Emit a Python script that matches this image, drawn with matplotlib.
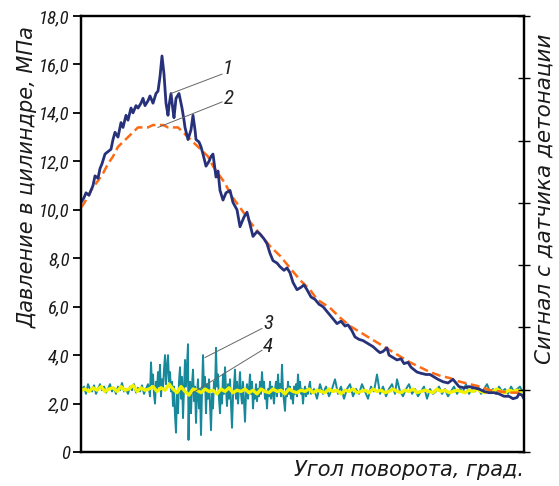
import matplotlib
matplotlib.use("Agg")
import matplotlib.pyplot as plt
from matplotlib import font_manager
import numpy as np

# ---------------- data ----------------
# curve 1: measured cylinder pressure (MPa)
p1_x = [0, 3, 5, 8, 10, 12, 14, 17, 19, 21, 24, 27, 30, 32, 34, 37, 40, 42, 45, 47, 50, 52, 55,
        57, 60, 62, 64, 67, 69, 72, 75, 77, 79, 81, 83,
        85, 87, 88, 90, 92, 93, 95, 98, 101, 103, 104, 107, 110, 112, 114, 115, 118, 120, 122, 125,
        128, 130, 132, 135, 137, 139, 142, 145, 149, 152, 156, 159, 163, 166, 169, 172, 176, 179,
        183, 186, 189, 192, 196, 199, 203, 206, 209, 212, 216, 220, 223, 226, 230, 234, 238, 242,
        246, 249, 252, 256, 260, 264, 267, 271, 274, 278, 282, 286, 290, 292, 296, 299, 302, 306,
        308, 312, 316, 320, 323, 327, 330, 333, 336, 340, 345, 349, 353, 357, 362, 367, 372, 374,
        378, 383, 388, 393, 398, 403, 408, 413, 418, 423, 428, 432, 436, 438, 441, 443]
p1_y = [10.3, 10.5, 10.7, 10.6, 10.8, 11.0, 11.4, 11.3, 11.7, 11.9, 12.3, 12.4, 12.5, 12.9, 13.2,
        13.0, 13.6, 13.4, 13.9, 13.7, 14.2, 14.0, 14.3, 14.2, 14.4, 14.6, 14.3, 14.5, 14.7, 14.4,
        14.8, 14.9, 15.5, 16.35, 15.6, 14.4, 13.9, 14.3, 14.8, 14.1, 13.8,
        14.6, 14.8, 14.2, 13.7, 13.4, 12.9, 13.3, 13.9, 13.3, 12.9, 12.8, 12.6, 12.3, 11.8, 12.0,
        12.2, 12.3, 11.35, 11.6, 10.8, 10.4, 10.7, 10.8, 10.3, 10.0, 9.3, 9.7, 9.9, 9.4, 8.9, 9.1,
        9.0, 8.8, 8.6, 8.2, 7.9, 7.8, 7.65, 7.5, 7.6, 7.4, 7.0, 6.7, 6.8, 6.9, 6.7, 6.4, 6.3, 6.1,
        6.0, 5.8, 5.65, 5.5, 5.3, 5.4, 5.2, 5.25, 5.0, 4.75, 4.65, 4.6, 4.5, 4.4, 4.35, 4.2, 4.1,
        4.15, 4.3, 4.0, 3.9, 3.8, 3.85, 3.65, 3.7, 3.5, 3.4, 3.3, 3.25, 3.2, 3.2, 3.1, 3.0, 2.9,
        2.85, 3.0, 2.9, 2.7, 2.65, 2.7, 2.65, 2.6, 2.5, 2.45, 2.45, 2.4, 2.3, 2.3, 2.2, 2.25, 2.4,
        2.35, 2.2]

# curve 2: calculated pressure (MPa)
p2_x = [0, 2, 5, 10, 17, 22, 27, 32, 37, 42, 47, 52, 57, 62, 67, 72, 77, 82, 87, 92, 97, 102,
        107, 112, 117, 122, 127, 132, 137, 144, 150, 159, 169, 179, 189, 199, 209, 219, 229, 236,
        249, 259, 269, 279, 289, 299, 309, 319, 329, 339, 349, 359, 369, 379, 389, 399, 409, 419,
        429, 436, 443]
p2_y = [10.1, 10.2, 10.4, 10.8, 11.2, 11.5, 11.9, 12.2, 12.6, 12.8, 13.0, 13.2, 13.4, 13.4, 13.4,
        13.5, 13.5, 13.5, 13.4, 13.4, 13.4, 13.2, 13.0, 12.8, 12.6, 12.4, 12.2, 11.8, 11.5, 11.1,
        10.6, 10.1, 9.5, 9.0, 8.5, 8.1, 7.6, 7.1, 6.7, 6.3, 5.95, 5.55, 5.2, 4.95, 4.7, 4.45, 4.2,
        3.95, 3.7, 3.5, 3.3, 3.15, 3.05, 2.9, 2.8, 2.7, 2.55, 2.5, 2.45, 2.45, 2.45]

# curve 3: knock sensor signal (raw)
s3_x = [0, 3, 5, 7, 9, 11, 13, 15, 17, 19, 21, 23, 25, 27, 29, 31, 33, 35, 37, 39, 41, 43, 45, 47,
        49, 51, 53, 55, 57, 59, 61, 63, 65, 67,
        68, 69, 70, 71, 72, 73, 74, 75, 76, 77, 78, 79, 80, 81, 82, 83, 84, 85, 86, 87, 88, 89, 90,
        91, 92, 93, 94, 95, 96, 97, 98, 99, 100, 101, 102, 103, 104, 105, 106, 107, 107.5, 108, 109,
        110, 111, 112, 113, 114, 115, 116, 117, 118, 119, 120, 121, 122, 123, 124, 125, 126, 127,
        128, 129, 130, 131, 132, 133, 134, 135, 136, 137, 138, 139, 140, 141, 142, 143, 144, 145,
        146, 147, 148, 149, 150, 151, 152, 153, 154, 155, 156, 157, 158, 159, 160, 161, 162, 163,
        164, 165, 166, 167, 168, 169, 170, 171, 172, 173, 174, 175, 176, 177, 178, 179, 180, 181,
        182, 183, 184, 185, 186, 187, 188, 189, 190, 191, 192, 193, 194, 195, 196, 197, 198, 199,
        200, 201, 202, 203, 204, 205, 206, 207, 208, 209, 210, 211, 212, 213, 214, 215, 216, 217,
        218, 219, 220, 221, 222, 223, 224, 225, 226, 227, 228, 229, 230,
        233, 236, 239, 242, 245, 248, 251, 254, 257, 260, 263, 266, 269, 272, 275, 278, 281, 284,
        287, 290, 293, 296, 299, 302, 305, 308, 311, 314, 316, 319, 322, 325, 328, 331, 334, 337,
        340, 343, 346, 349, 352, 355, 358, 361, 364, 367, 370, 373, 376, 379, 382, 385, 388, 391,
        394, 397, 400, 403, 406, 409, 412, 415, 418, 421, 424, 427, 430, 433, 436, 439, 441, 443]
s3_y = [2.5, 2.7, 2.4, 2.8, 2.6, 2.5, 2.75, 2.4, 2.6, 2.8, 2.55, 2.7, 2.45, 2.6, 2.8, 2.5, 2.65,
        2.4, 2.7, 2.55, 2.85, 2.5, 2.6, 2.4, 2.7, 2.55, 2.8, 2.45, 2.65, 2.5, 2.75, 2.4, 2.6, 2.8,
        2.6, 2.3, 3.7, 2.8, 3.2, 2.4, 2.0, 2.9, 2.5, 3.3, 2.7, 3.6, 2.3, 3.0, 2.6, 3.4, 4.0, 2.8,
        3.5, 4.0, 2.9, 3.3, 2.5, 2.9, 1.9, 2.7, 1.5, 0.8, 2.4, 1.6, 2.9, 3.5, 2.2, 3.1, 1.4, 2.6,
        3.8, 2.7, 3.6, 4.45, 0.5, 1.8, 2.9, 1.6, 2.8, 3.4, 2.1, 2.7, 1.2, 2.4, 3.0, 1.8, 2.6, 0.7,
        2.5, 4.0, 2.6, 3.1, 1.6, 2.8, 2.2, 3.0, 1.9, 0.9, 2.4, 1.8, 2.9, 2.5, 4.3, 2.7, 3.2, 2.2,
        1.6, 2.6, 2.0, 3.2, 2.4, 3.5, 2.6, 1.9, 2.8, 2.2, 3.0, 2.0, 1.0, 2.3, 2.7, 3.4, 2.2, 2.9,
        2.0, 2.6, 3.3, 2.4, 2.0, 2.9, 2.1, 1.25, 2.4, 2.8, 2.2, 2.6, 3.2, 2.4, 2.9, 1.8, 2.5, 2.2,
        2.8, 2.1, 2.6, 2.3, 2.9, 2.4, 3.3, 2.6, 2.9, 2.2, 2.5, 1.8, 2.6, 2.3, 2.9, 2.2, 2.7, 2.4,
        2.0, 2.6, 2.9, 2.3, 3.2, 2.5, 2.8, 2.3, 3.6, 2.5, 2.1, 1.7, 2.6, 2.3, 2.9, 2.4, 2.7, 2.2,
        2.5, 2.0, 2.7, 2.4, 2.8, 2.3, 3.2, 2.6, 2.9, 2.4, 2.6, 2.0, 2.5, 2.7, 2.3, 2.6, 2.4, 2.7,
        2.9, 2.4,
        2.6, 2.2, 2.8, 2.4, 2.7, 2.3, 2.6, 3.0, 2.4, 2.7, 2.2, 2.6, 2.8, 2.3, 2.6, 2.4, 2.8, 2.5,
        2.2, 2.7, 2.5, 3.2, 2.4, 2.7, 2.3, 2.6, 2.8, 2.4, 3.0, 2.5, 2.3, 2.6, 2.8, 2.4, 2.6, 2.3,
        2.5, 2.7, 2.2, 2.6, 2.4, 2.5, 2.7, 2.4, 2.6, 2.3, 2.5, 2.7, 2.4, 2.6, 2.5, 2.8, 2.4, 2.6,
        2.5, 2.7, 2.4, 2.6, 2.8, 2.5, 2.6, 2.4, 2.7, 2.5, 2.6, 2.4, 2.7, 2.5, 2.6, 2.7, 2.5, 2.6]

# curve 4: knock sensor signal (filtered), sampled every 4 units
s4_step = 4
s4_y = [2.55, 2.6, 2.5, 2.65, 2.55, 2.7, 2.5, 2.6, 2.65, 2.5, 2.7, 2.55, 2.6, 2.75, 2.5, 2.65,
        2.55, 2.6, 2.7, 2.5,
        2.65, 2.55, 2.8, 2.6, 2.45, 2.7, 2.5, 2.35, 2.6, 2.55, 2.45, 2.6, 2.5, 2.55, 2.4, 2.6,
        2.5, 2.65, 2.45, 2.55,
        2.5, 2.6, 2.45, 2.55, 2.4, 2.6, 2.5, 2.45, 2.6, 2.5, 2.55, 2.4, 2.6, 2.5, 2.45, 2.55,
        2.5, 2.6, 2.45, 2.55,
        2.5, 2.45, 2.6, 2.5, 2.55, 2.4, 2.55, 2.5, 2.6, 2.45, 2.5, 2.55, 2.45, 2.6, 2.5, 2.55,
        2.45, 2.5, 2.6, 2.5,
        2.45, 2.55, 2.5, 2.6, 2.45, 2.5, 2.55, 2.5, 2.45, 2.6, 2.5, 2.55, 2.45, 2.5, 2.55, 2.5,
        2.45, 2.55, 2.5, 2.6,
        2.5, 2.45, 2.55, 2.5, 2.6, 2.5, 2.45, 2.55, 2.5, 2.55, 2.5]

y_ticks = [0, 2, 4, 6, 8, 10, 12, 14, 16, 18]
y_tick_labels = ["0", "2,0", "4,0", "6,0", "8,0", "10,0", "12,0", "14,0", "16,0", "18,0"]

# leader labels: (label, curve point, text position)
labels = ["1", "2", "3", "4"]
label_from = [(90, 14.8), (77, 13.4), (124, 3.9), (112, 2.45)]
label_to = [(141, 15.6), (141, 14.45), (181, 5.1), (181, 4.2)]
label_text = [(147, 15.85), (148, 14.6), (187, 5.3), (187, 4.35)]

# ---------------- font ----------------
avail = {f.name for f in font_manager.fontManager.ttflist}
fam = "DejaVu Sans"
for cand in ["Roboto Condensed", "Liberation Sans Narrow", "Open Sans Condensed",
             "DejaVu Sans Condensed", "DejaVu Sans"]:
    if cand in avail:
        fam = cand
        break
plt.rcParams["font.family"] = [fam, "DejaVu Sans"]
plt.rcParams["font.style"] = "italic"
label_font = dict(family=["DejaVu Sans"], style="italic", color="#1a1a1a")

# ---------------- plot ----------------
fig = plt.figure(figsize=(5.59, 4.86), dpi=100)
ax = fig.add_axes([81 / 559, 34 / 486, 443 / 559, 436 / 486])

c_navy = "#27317a"
c_orange = "#ff6a14"
c_teal = "#17899a"
c_yellow = "#f2f200"

ax.plot(s3_x, s3_y, color=c_teal, lw=1.4, zorder=2)
s4_x = np.arange(len(s4_y)) * s4_step
ax.plot(s4_x, s4_y, color=c_yellow, lw=2.4, zorder=3)
ax.plot(p2_x, p2_y, color=c_orange, lw=1.8, dashes=(3.6, 1.8), zorder=4)
ax.plot(p1_x, p1_y, color=c_navy, lw=2.0, zorder=5)

for lab, (x0, y0), (x1, y1), (xt, yt) in zip(labels, label_from, label_to, label_text):
    ax.plot([x0, x1], [y0, y1], color="#666666", lw=0.7, zorder=6)
    ax.text(xt, yt, lab, fontsize=15, ha="center", va="center", color="#222222")

ax.set_xlim(0, 443)
ax.set_ylim(0, 18)
ax.set_xticks([])
ax.set_yticks(y_ticks)
ax.set_yticklabels(y_tick_labels, fontsize=13.5, color="#1a1a1a")
ax.tick_params(axis="y", direction="out", length=6, width=1.3, pad=2)
for sp in ax.spines.values():
    sp.set_linewidth(1.6)

ax2 = ax.twinx()
ax2.set_ylim(0, 7)
ax2.set_yticks(range(0, 8))
ax2.set_yticklabels([])
ax2.tick_params(axis="y", direction="inout", length=8, width=1.0)
for sp in ax2.spines.values():
    sp.set_linewidth(1.6)

fig.text(28 / 559, 1 - 177 / 486, "Давление в цилиндре, МПа", rotation=90, fontsize=15,
         ha="center", va="center", **label_font)
fig.text(545 / 559, 1 - 199 / 486, "Сигнал с датчика детонации", rotation=90, fontsize=15.5,
         ha="center", va="center", **label_font)
fig.text(524 / 559, 1 - 470 / 486, "Угол поворота, град.", fontsize=15, ha="right",
         va="center", **label_font)

fig.savefig("out.png", dpi=100)
